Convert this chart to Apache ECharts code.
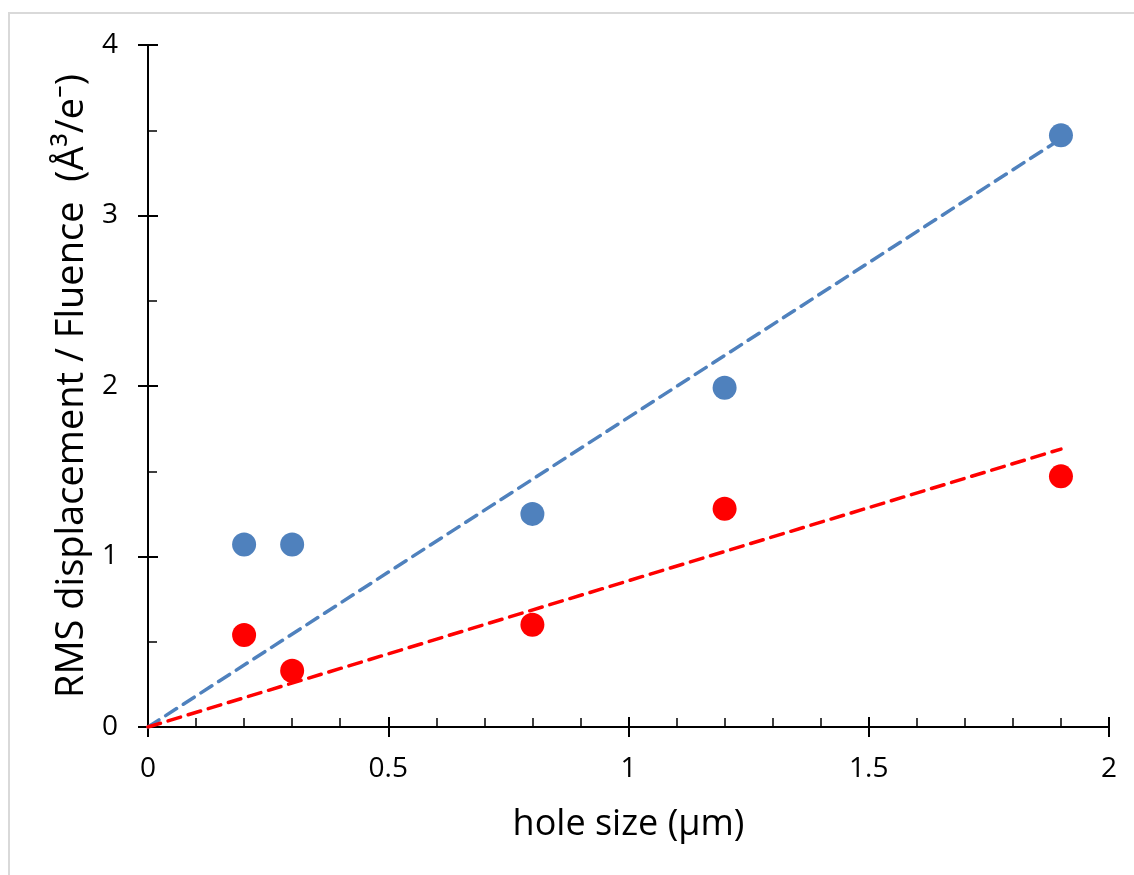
<!DOCTYPE html>
<html>
<head>
<meta charset="utf-8">
<script src="https://cdn.jsdelivr.net/npm/echarts@6/dist/echarts.min.js"></script>
<style>
  html, body { margin: 0; padding: 0; background: #fff; }
  #chart { width: 1134px; height: 875px; }
</style>
</head>
<body>
<div id="chart"></div>
<script>
// hole size (um) and RMS displacement / fluence values
const holeSize = [0.2, 0.3, 0.8, 1.2, 1.9];
const blueValues = [1.07, 1.07, 1.25, 1.99, 3.47];
const redValues = [0.54, 0.33, 0.60, 1.28, 1.47];

// dashed trend lines (start and end of each fitted line)
const blueTrend = [[0, 0], [1.9, 3.45]];
const redTrend = [[0, 0], [1.9, 1.63]];

const blueColor = '#4f81bd';
const redColor = '#ff0000';
const font = '"Open Sans", "Noto Sans", sans-serif';

const chart = echarts.init(document.getElementById('chart'));

const gridBox = { left: 148, top: 45, width: 961, height: 682 };

const toPoints = (xs, ys) => xs.map((x, i) => [x, ys[i]]);

chart.setOption({
    animation: false,
    backgroundColor: '#fff',
    graphic: [
        {
            type: 'rect',
            shape: { x: 9, y: 13, width: 1200, height: 1000 },
            style: { fill: 'none', stroke: '#d9d9d9', lineWidth: 2 },
            silent: true
        }
    ],
    grid: [
        Object.assign({}, gridBox),
        Object.assign({}, gridBox)
    ],
    xAxis: [
        {
            type: 'value',
            gridIndex: 0,
            position: 'bottom',
            min: 0,
            max: 2,
            interval: 0.5,
            name: 'hole size (\u03bcm)',
            nameLocation: 'middle',
            nameGap: 80,
            nameTextStyle: { fontFamily: font, fontSize: 36, color: '#000' },
            axisLine: { show: true, lineStyle: { color: '#000', width: 2 } },
            axisTick: { show: true, inside: false, length: 10, lineStyle: { color: '#000', width: 2 } },
            axisLabel: { fontFamily: font, fontSize: 28, color: '#000', margin: 28 },
            splitLine: { show: false }
        },
        {
            type: 'value',
            gridIndex: 1,
            position: 'bottom',
            min: 0,
            max: 2,
            interval: 0.5,
            axisLine: { show: false },
            axisTick: { show: true, inside: true, length: 10, lineStyle: { color: '#000', width: 2 } },
            minorTick: { show: true, splitNumber: 5, length: 9, lineStyle: { color: '#000', width: 1.5 } },
            axisLabel: { show: false },
            splitLine: { show: false }
        }
    ],
    yAxis: [
        {
            type: 'value',
            gridIndex: 0,
            position: 'left',
            min: 0,
            max: 4,
            interval: 1,
            name: 'RMS displacement / Fluence  (\u00c5\u00b3/e\u207b)',
            nameLocation: 'middle',
            nameGap: 57,
            nameTextStyle: { fontFamily: font, fontSize: 38, color: '#000' },
            axisLine: { show: true, lineStyle: { color: '#000', width: 2 } },
            axisTick: { show: true, inside: false, length: 10, lineStyle: { color: '#000', width: 2 } },
            axisLabel: { fontFamily: font, fontSize: 28, color: '#000', margin: 30 },
            splitLine: { show: false }
        },
        {
            type: 'value',
            gridIndex: 1,
            position: 'left',
            min: 0,
            max: 4,
            interval: 1,
            axisLine: { show: false },
            axisTick: { show: true, inside: true, length: 10, lineStyle: { color: '#000', width: 2 } },
            minorTick: { show: true, splitNumber: 2, length: 9, lineStyle: { color: '#000', width: 1.5 } },
            axisLabel: { show: false },
            splitLine: { show: false }
        }
    ],
    series: [
        {
            name: 'blue trend',
            type: 'line',
            xAxisIndex: 0,
            yAxisIndex: 0,
            data: blueTrend,
            showSymbol: false,
            lineStyle: { color: blueColor, width: 3.5, type: [13, 8], cap: 'round' },
            z: 3
        },
        {
            name: 'red trend',
            type: 'line',
            xAxisIndex: 0,
            yAxisIndex: 0,
            data: redTrend,
            showSymbol: false,
            lineStyle: { color: redColor, width: 3.5, type: [13, 8], cap: 'round' },
            z: 3
        },
        {
            name: 'blue',
            type: 'scatter',
            xAxisIndex: 0,
            yAxisIndex: 0,
            data: toPoints(holeSize, blueValues),
            symbolSize: 24,
            itemStyle: { color: blueColor, opacity: 1 },
            z: 4
        },
        {
            name: 'red',
            type: 'scatter',
            xAxisIndex: 0,
            yAxisIndex: 0,
            data: toPoints(holeSize, redValues),
            symbolSize: 24,
            itemStyle: { color: redColor, opacity: 1 },
            z: 4
        },
        {
            name: 'ticks',
            type: 'scatter',
            xAxisIndex: 1,
            yAxisIndex: 1,
            data: []
        }
    ]
});
</script>
</body>
</html>
